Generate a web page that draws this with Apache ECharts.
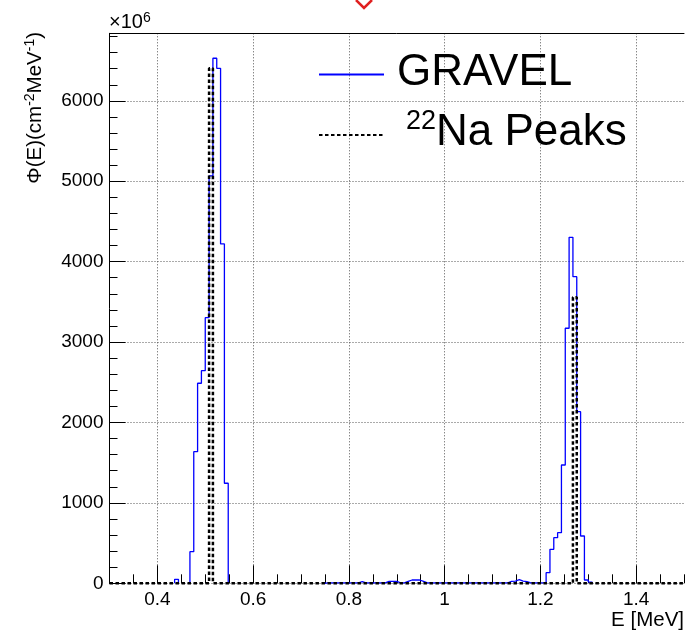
<!DOCTYPE html>
<html><head><meta charset="utf-8">
<script src="https://cdn.jsdelivr.net/npm/echarts@6/dist/echarts.min.js"></script>
<style>html,body{margin:0;padding:0;background:#fff;}#c{width:698px;height:632px;}</style>
</head><body><div id="c"></div>
<script>
// ---- data ----
const binOrigin = 0.3;    // MeV, lower edge of the first bin
const binWidth = 0.008;   // MeV
// GRAVEL unfolded spectrum, one value per bin (x10^6 cm^-2 MeV^-1), bins 0..149
const gravelValues = [
  0,0,0,0,0,0,0,0,0,0, 0,0,0,0,0,0,0,50,0,0,
  0,393,1637,2488,2644,3303,5066,6530,6405,4220,
  1244,0,0,0,0,0,0,0,0,0, 0,0,0,0,0,0,0,0,0,0,
  0,0,0,0,0,0,5,5,5,5, 5,5,5,5,5,20,5,5,5,5,
  5,5,25,25,25,5,5,25,41,41, 41,25,5,5,5,5,5,5,5,5,
  5,5,5,5,5,5,5,5,5,5, 5,5,5,5,25,28,45,28,20,5,
  5,5,5,5,132,423,567,629,1471,3172, 4303,3813,2134,588,41,15,0,0,0,0,
  0,0,0,0,0,0,0,0,0,0, 0,0,0,0,0,0,0,0,0,0
];
// 22Na reference peaks: bin index and height
const naPeakBins = [26, 121];
const naPeakValues = [6405, 3557];
const xMajorTicks = [0.4, 0.6, 0.8, 1.0, 1.2, 1.4];
const yMajorTicks = [0, 1000, 2000, 3000, 4000, 5000, 6000];
const seriesNames = ['GRAVEL', '22Na Peaks'];

// ---- build step outlines from the bins ----
function gravelSteps(vals) {
  const pts = [];
  for (let i = 0; i < vals.length; i++) {
    const v = vals[i];
    if (v <= 0) continue;
    const lo = binOrigin + i * binWidth, hi = lo + binWidth;
    if (i === 0 || vals[i - 1] <= 0) pts.push([lo, 0]);
    pts.push([lo, v], [hi, v]);
    if (i === vals.length - 1 || vals[i + 1] <= 0) { pts.push([hi, 0]); pts.push([hi, '-']); }
  }
  return pts;
}
function fullSteps(vals) {
  const pts = [];
  for (let i = 0; i < vals.length; i++) {
    const lo = binOrigin + i * binWidth, hi = lo + binWidth;
    pts.push([lo, vals[i]], [hi, vals[i]]);
  }
  return pts;
}
const naValues = gravelValues.map(() => 0);
naPeakBins.forEach((b, j) => { naValues[b] = naPeakValues[j]; });

const FONT = 'Liberation Sans, Arial, Helvetica, sans-serif';
const gridLine = { show: true, lineStyle: { color: '#555', width: 1, type: [1, 2] } };

const chart = echarts.init(document.getElementById('c'), null, { renderer: 'canvas' });
chart.setOption({
  animation: false,
  backgroundColor: '#fff',
  grid: { left: 109.5, right: 14, top: 33.3, bottom: 48.7, outerBoundsMode: 'none' },
  legend: {
    orient: 'vertical', left: 318, top: 50.5, padding: 0, itemGap: 13.5,
    itemWidth: 65, itemHeight: 14, selectedMode: false,
    itemStyle: { opacity: 0 },
    data: seriesNames,
    formatter: n => n === seriesNames[1] ? '{sup|22}{big|Na Peaks}' : '{big|' + n + '}',
    textStyle: {
      fontFamily: FONT, color: '#000', padding: [0, 0, 4, 8],
      rich: {
        big: { fontFamily: FONT, fontSize: 44, lineHeight: 50, color: '#000' },
        sup: { fontFamily: FONT, fontSize: 27, lineHeight: 25, verticalAlign: 'top', color: '#000', padding: [0, 0, 0, 9] }
      }
    }
  },
  xAxis: [
    { type: 'value', min: 0.3, max: 1.5, position: 'bottom',
      axisLine: { show: false },
      axisTick: { show: true, inside: true, length: 18, customValues: xMajorTicks, lineStyle: { color: '#000', width: 1 } },
      axisLabel: { show: true, customValues: xMajorTicks, margin: 6, fontFamily: FONT, fontSize: 19, lineHeight: 20, color: '#000',
        formatter: v => String(+Number(v).toFixed(1)) },
      splitLine: gridLine },
    { type: 'value', min: 0.3, max: 1.5, interval: 0.05, position: 'bottom',
      axisLine: { show: false },
      axisTick: { show: true, inside: true, length: 9, lineStyle: { color: '#000', width: 1 } },
      axisLabel: { show: false }, splitLine: { show: false } },
    { type: 'value', min: 0.3, max: 1.5, position: 'top',
      axisLine: { show: true, lineStyle: { color: '#000', width: 1 } },
      axisTick: { show: false }, axisLabel: { show: false }, splitLine: { show: false } }
  ],
  yAxis: [
    { type: 'value', min: 0, max: 6840, position: 'left',
      axisLine: { show: true, lineStyle: { color: '#000', width: 1 } },
      axisTick: { show: true, inside: true, length: 16, customValues: yMajorTicks, lineStyle: { color: '#000', width: 1 } },
      axisLabel: { show: true, customValues: yMajorTicks, margin: 6, fontFamily: FONT, fontSize: 19, color: '#000',
        formatter: v => String(Math.round(v)) },
      splitLine: gridLine },
    { type: 'value', min: 0, max: 6840, interval: 200, position: 'left',
      axisLine: { show: false },
      axisTick: { show: true, inside: true, length: 8, lineStyle: { color: '#000', width: 1 } },
      axisLabel: { show: false }, splitLine: { show: false } }
  ],
  series: [
    { name: seriesNames[0], type: 'line', xAxisIndex: 0, yAxisIndex: 0, data: gravelSteps(gravelValues),
      symbol: 'none', showSymbol: false, connectNulls: false, clip: false,
      lineStyle: { color: '#0000ff', width: 1.3 }, itemStyle: { color: '#0000ff' } },
    { name: seriesNames[1], type: 'line', xAxisIndex: 0, yAxisIndex: 0, data: fullSteps(naValues),
      symbol: 'none', showSymbol: false, clip: false,
      lineStyle: { color: '#000', width: 2.5, type: [3.5, 2.5] }, itemStyle: { color: '#000' } }
  ],
  graphic: [
    { type: 'text', x: 109, y: 22, style: { text: '{a|×10}{s|6}', fill: '#000', textVerticalAlign: 'middle',
        rich: { a: { fontFamily: FONT, fontSize: 20, lineHeight: 22 }, s: { fontFamily: FONT, fontSize: 14, lineHeight: 14, verticalAlign: 'top' } } } },
    { type: 'text', x: 35, y: 32, rotation: Math.PI / 2,
      style: { text: '{a|Φ(E)(cm}{s|-2}{a|MeV}{s|-1}{a|)}', fill: '#000', textAlign: 'right', textVerticalAlign: 'middle',
        rich: { a: { fontFamily: FONT, fontSize: 20.5, lineHeight: 24 }, s: { fontFamily: FONT, fontSize: 14, lineHeight: 14, verticalAlign: 'top' } } } },
    { type: 'text', x: 684, y: 620.5, style: { text: 'E [MeV]', fill: '#000', fontFamily: FONT, fontSize: 20.5, textAlign: 'right', textVerticalAlign: 'middle' } },
    { type: 'polyline', shape: { points: [[356, 0], [364, 8], [372, 0]] }, style: { stroke: '#e02020', lineWidth: 2.5, fill: null } }
  ]
});
</script></body></html>
